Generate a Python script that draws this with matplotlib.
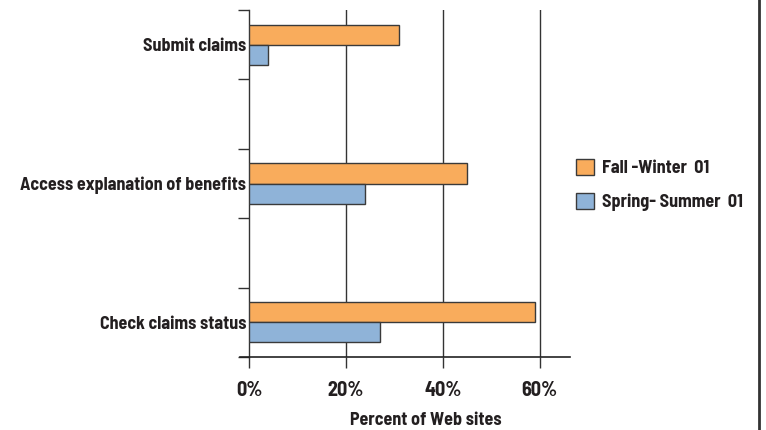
import matplotlib
matplotlib.use('Agg')
import matplotlib.pyplot as plt
from matplotlib.lines import Line2D

# data
categories = ['Submit claims', 'Access explanation of benefits', 'Check claims status']
fall_winter = [31, 45, 59]
spring_summer = [4, 24, 27]
series_names = ['Fall -Winter  01', 'Spring- Summer  01']
xticks = [0, 20, 40, 60]
xtick_labels = ['0%', '20%', '40%', '60%']

orange = '#f9ac5c'
blue = '#8fb3d8'
edge = '#3a3a3a'
txt = '#231f20'

plt.rcParams['font.family'] = ['Barlow Semi Condensed', 'DejaVu Sans']
plt.rcParams['font.weight'] = 'bold'
plt.rcParams['axes.labelweight'] = 'bold'

fig = plt.figure(figsize=(7.66, 4.30), dpi=100)
ax = fig.add_axes([249/766, 1-357/430, (568.6-249)/766, (357-10)/430])

# categories on every other slot, top to bottom
ypos = [4, 2, 0]
h = 0.29
ax.barh([y + h/2 for y in ypos], fall_winter, height=h, color=orange,
        edgecolor=edge, linewidth=1, label=series_names[0], zorder=3)
ax.barh([y - h/2 for y in ypos], spring_summer, height=h, color=blue,
        edgecolor=edge, linewidth=1, label=series_names[1], zorder=3)

ax.set_xlim(0, 66)
ax.set_ylim(-0.5, 4.5)

for x in xticks[1:]:
    ax.axvline(x, color='#333333', linewidth=1, zorder=1)

ax.set_yticks([y - 0.5 for y in range(6)])
ax.set_yticklabels([])
ax.set_yticks(ypos, minor=True)
ax.set_yticklabels(categories, minor=True, fontsize=13, color=txt)
ax.tick_params(axis='y', which='major', direction='out', length=8, width=1, color='#333333')
ax.tick_params(axis='y', which='minor', length=0, pad=2)

ax.set_xticks(xticks)
ax.set_xticklabels(xtick_labels, fontsize=14.5, color=txt)
ax.tick_params(axis='x', direction='out', length=8, width=1, color='#333333', pad=9)
ax.set_xlabel('Percent of Web sites', fontsize=13, color=txt)
ax.xaxis.set_label_coords(0.552, -0.158)

for s in ['top', 'right', 'bottom']:
    ax.spines[s].set_visible(False)
ax.spines['left'].set_color('#333333')
ax.spines['left'].set_linewidth(1)

# bottom axis line runs a little past both ends
ax.add_line(Line2D([-0.028, 1.004], [0, 0], transform=ax.transAxes,
                   color='#222222', linewidth=1.2, clip_on=False, zorder=4))

leg = fig.legend(loc='upper left', bbox_to_anchor=(576/766, 1-159/430),
                 frameon=False, fontsize=13, handlelength=1.0, handleheight=1.0,
                 handletextpad=0.45, labelspacing=0.85, borderpad=0, borderaxespad=0)
for t in leg.get_texts():
    t.set_color(txt)

# frame line on the right edge
fig.add_artist(Line2D([759/766, 759/766], [0, 1], transform=fig.transFigure,
                      color='#333333', linewidth=2))

fig.savefig('out.png', dpi=100)
